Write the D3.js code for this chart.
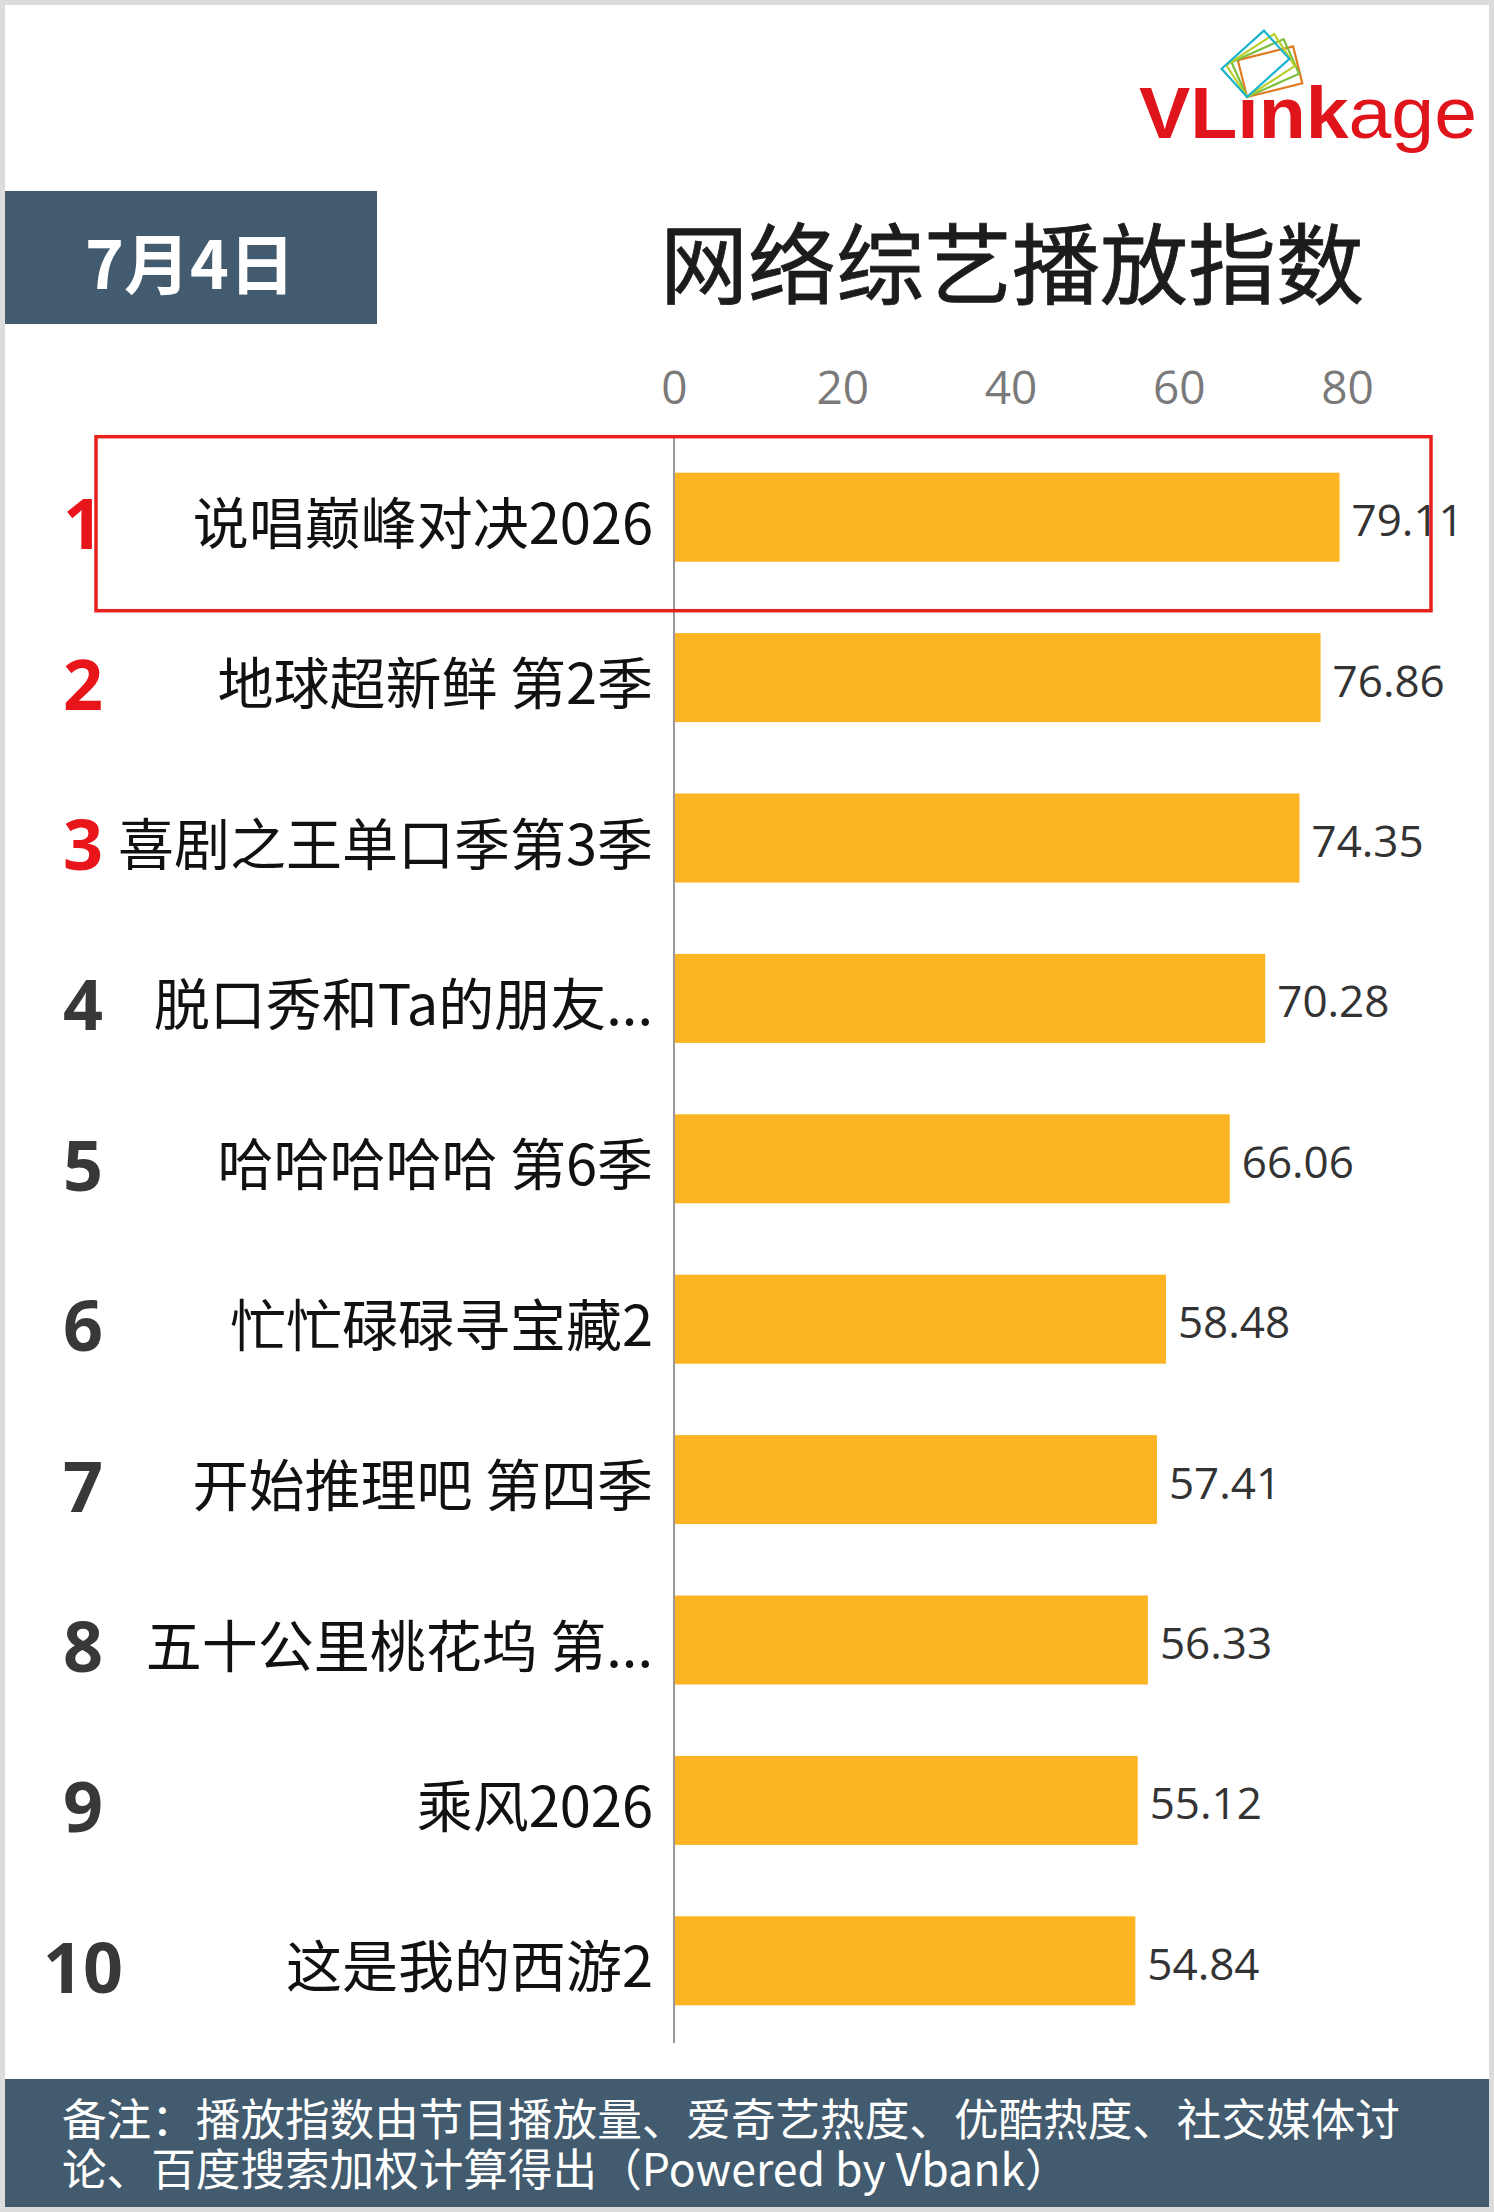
<!DOCTYPE html>
<html><head><meta charset="utf-8">
<script src="https://cdn.jsdelivr.net/npm/d3@7"></script>
<style>
html,body{margin:0;padding:0;background:#fff;}
svg{display:block;}
</style></head>
<body>
<svg id="chart" width="1494" height="2212"></svg>
<script>
// ---- data ----
const ranks = ["1","2","3","4","5","6","7","8","9","10"];
const categories = ["说唱巅峰对决2026","地球超新鲜 第2季","喜剧之王单口季第3季","脱口秀和Ta的朋友...","哈哈哈哈哈 第6季","忙忙碌碌寻宝藏2","开始推理吧 第四季","五十公里桃花坞 第...","乘风2026","这是我的西游2"];
const values = [79.11,76.86,74.35,70.28,66.06,58.48,57.41,56.33,55.12,54.84];
const tickValues = [0,20,40,60,80];
const dateLabel = "7月4日";
const titleText = "网络综艺播放指数";
const noteLines = ["备注：播放指数由节目播放量、爱奇艺热度、优酷热度、社交媒体讨","论、百度搜索加权计算得出（Powered by Vbank）"];

const W = 1494, H = 2212;
const svg = d3.select("#chart");
const CJK = "'Noto Sans CJK SC','Noto Sans',sans-serif";
const LAT = "'Open Sans','Noto Sans',sans-serif";

// frame
svg.append("rect").attr("width",W).attr("height",H).attr("fill","#dcdcdc");
svg.append("rect").attr("x",5).attr("y",5).attr("width",W-10).attr("height",H-10).attr("fill","#fff");

// date box
svg.append("rect").attr("x",5).attr("y",191).attr("width",372).attr("height",133).attr("fill","#425b6e");
svg.append("text").attr("x",190).attr("y",260).attr("text-anchor","middle").attr("dominant-baseline","central")
  .attr("fill","#fff").attr("font-family",CJK).attr("font-weight","bold").attr("font-size",66).text(dateLabel);

// title
svg.append("text").attr("x",1012).attr("y",258).attr("text-anchor","middle").attr("dominant-baseline","central")
  .attr("fill","#1c1c1c").attr("font-family",CJK).attr("font-size",88).attr("font-weight",400)
  .attr("stroke","#1c1c1c").attr("stroke-width",0.8).text(titleText);

// logo
const logo = svg.append("g");
const iconCols = ["#e07b22","#7dbf3a","#b8cf2c","#1cb2cc"];
const iconAngles = [-14,-24,-33,-42];
iconCols.forEach((c,i)=>{
  logo.append("rect").attr("x",0).attr("y",-38).attr("width",57).attr("height",38)
    .attr("fill","none").attr("stroke",c).attr("stroke-width",2.2)
    .attr("transform",`translate(1247,97) rotate(${iconAngles[i]})`);
});
const lt = logo.append("text").attr("x",1139).attr("y",138).attr("fill","#e0141b")
  .attr("font-family","'Liberation Sans',Arial,sans-serif").attr("font-size",72).attr("textLength",338).attr("lengthAdjust","spacingAndGlyphs");
lt.append("tspan").attr("font-weight","bold").text("VLınk");
lt.append("tspan").attr("font-weight","normal").text("age");

// scales
const x = d3.scaleLinear().domain([0,80]).range([674,1347]);
const y = d3.scaleBand().domain(categories).range([437,2041]).paddingInner(0.445).paddingOuter(0.2225);
const bw = y.bandwidth();

// axis ticks
const axis = d3.axisTop(x).tickValues(tickValues).tickSize(0).tickPadding(0).tickFormat(d3.format("d"));
const ag = svg.append("g").attr("transform","translate(0,386)").call(axis);
ag.select(".domain").remove();
ag.selectAll("text").attr("font-family",LAT).attr("font-size",46).attr("fill","#7a7a7a")
  .attr("dominant-baseline","central").attr("dy",null).attr("y",0);

// bars
svg.append("g").selectAll("rect").data(values).join("rect")
  .attr("x",x(0)).attr("y",(d,i)=>y(categories[i])).attr("width",d=>x(d)-x(0)).attr("height",bw)
  .attr("fill","#fcb422");

// axis line
svg.append("line").attr("x1",x(0)).attr("x2",x(0)).attr("y1",y.range()[0]).attr("y2",y.range()[1]+2)
  .attr("stroke","#999").attr("stroke-width",2);

// value labels
svg.append("g").selectAll("text").data(values).join("text")
  .attr("x",d=>x(d)+12).attr("y",(d,i)=>y(categories[i])+bw/2+2).attr("dominant-baseline","central")
  .attr("font-family",LAT).attr("font-size",44).attr("fill","#333").text(d=>d3.format(".2f")(d));

// category labels
svg.append("g").selectAll("text").data(categories).join("text")
  .attr("x",x(0)-21).attr("y",d=>y(d)+bw/2+2).attr("text-anchor","end").attr("dominant-baseline","central")
  .attr("font-family",CJK).attr("font-size",56).attr("fill","#111").text(d=>d);

// rank labels
svg.append("g").selectAll("text").data(ranks).join("text")
  .attr("x",83).attr("y",(d,i)=>y(categories[i])+bw/2+5).attr("text-anchor","middle").attr("dominant-baseline","central")
  .attr("font-family",LAT).attr("font-weight","bold").attr("font-size",70)
  .attr("fill",(d,i)=>i<3?"#e8151b":"#383838").text(d=>d);

// highlight box on first row
svg.append("rect").attr("x",96).attr("y",y(categories[0])-36).attr("width",x(80)+84-96).attr("height",bw+85)
  .attr("fill","none").attr("stroke","#e8211d").attr("stroke-width",3.5);

// footer
svg.append("rect").attr("x",5).attr("y",2079).attr("width",W-10).attr("height",128).attr("fill","#425b6e");
const note = svg.append("text").attr("font-family",CJK).attr("font-size",44.6).attr("fill","#fff");
note.selectAll("tspan").data(noteLines).join("tspan")
  .attr("x",62).attr("y",(d,i)=>2136+i*50).text(d=>d);
</script>
</body></html>
